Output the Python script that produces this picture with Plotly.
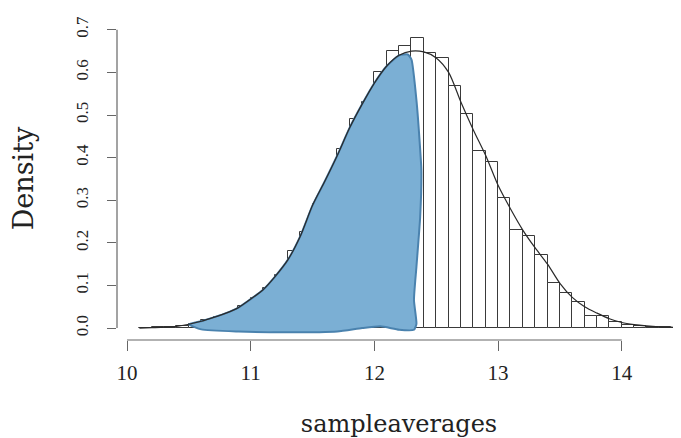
import plotly.graph_objects as go

# ---- data ----
bin_left = [10.1, 10.2, 10.3, 10.4, 10.5, 10.6, 10.7, 10.8, 10.9, 11.0,
            11.1, 11.2, 11.3, 11.4, 11.5, 11.6, 11.7, 11.8, 11.9, 12.0,
            12.1, 12.2, 12.3, 12.4, 12.5, 12.6, 12.7, 12.8, 12.9, 13.0,
            13.1, 13.2, 13.3, 13.4, 13.5, 13.6, 13.7, 13.8, 13.9, 14.0,
            14.1, 14.2, 14.3, 14.4]
hist_density = [0.001, 0.002, 0.003, 0.006, 0.010, 0.020, 0.026, 0.034, 0.052, 0.070,
                0.095, 0.125, 0.180, 0.225, 0.290, 0.340, 0.420, 0.490, 0.530, 0.600,
                0.650, 0.662, 0.680, 0.645, 0.633, 0.568, 0.502, 0.416, 0.389, 0.305,
                0.230, 0.216, 0.171, 0.106, 0.083, 0.062, 0.028, 0.028, 0.015, 0.008,
                0.005, 0.003, 0.002, 0.001]
bin_width = 0.1

curve_x = [10.1, 10.2, 10.3, 10.4, 10.5, 10.6, 10.7, 10.8, 10.9, 11.0,
           11.1, 11.2, 11.3, 11.4, 11.5, 11.6, 11.7, 11.8, 11.9, 12.0,
           12.1, 12.2, 12.3, 12.4, 12.5, 12.6, 12.7, 12.8, 12.9, 13.0,
           13.1, 13.2, 13.3, 13.4, 13.5, 13.6, 13.7, 13.8, 13.9, 14.0,
           14.1, 14.2, 14.3, 14.4, 14.5]
curve_y = [0.000, 0.001, 0.002, 0.004, 0.009, 0.016, 0.025, 0.035, 0.048, 0.068,
           0.090, 0.122, 0.160, 0.215, 0.288, 0.345, 0.405, 0.470, 0.525, 0.575,
           0.615, 0.640, 0.650, 0.648, 0.634, 0.600, 0.530, 0.465, 0.405, 0.335,
           0.280, 0.230, 0.188, 0.150, 0.105, 0.072, 0.050, 0.035, 0.022, 0.013,
           0.008, 0.005, 0.003, 0.002, 0.001]

# shaded region: follows the curve up to 12.2, then an irregular right edge and bottom
shade_start = 10.5
shade_top_end = 12.2
edge_x = [12.27, 12.30, 12.34, 12.37, 12.38, 12.37, 12.34, 12.32, 12.34, 12.32,
          12.20, 12.05, 11.90, 11.70, 11.30, 10.90, 10.60]
edge_y = [0.642, 0.630, 0.535, 0.420, 0.370, 0.260, 0.144, 0.066, 0.010, -0.004,
          -0.004, 0.004, 0.000, -0.008, -0.010, -0.008, -0.003]

x_ticks = [10, 11, 12, 13, 14]
y_ticks = [0.0, 0.1, 0.2, 0.3, 0.4, 0.5, 0.6, 0.7]
y_tick_text = ["0.0", "0.1", "0.2", "0.3", "0.4", "0.5", "0.6", "0.7"]

# ---- figure ----
fig = go.Figure()

fig.add_trace(go.Bar(
    x=[b + bin_width / 2 for b in bin_left],
    y=hist_density,
    width=bin_width,
    marker=dict(color="white", line=dict(color="#3a3a3a", width=1)),
    hoverinfo="skip",
    showlegend=False,
))

top_x = [x for x in curve_x if shade_start <= x <= shade_top_end]
top_y = [y for x, y in zip(curve_x, curve_y) if shade_start <= x <= shade_top_end]
fig.add_trace(go.Scatter(
    x=top_x + edge_x + [top_x[0]],
    y=top_y + edge_y + [top_y[0]],
    mode="lines",
    fill="toself",
    fillcolor="#7BAFD4",
    line=dict(color="#4A82AE", width=2, shape="spline", smoothing=0.5),
    hoverinfo="skip",
    showlegend=False,
))

fig.add_trace(go.Scatter(
    x=curve_x,
    y=curve_y,
    mode="lines",
    line=dict(color="#2a2a2a", width=1.2, shape="spline", smoothing=0.8),
    hoverinfo="skip",
    showlegend=False,
))

axis_col = "#666666"
# R-style axis lines spanning only the tick range
fig.add_shape(type="line", xref="x", yref="paper",
              x0=min(x_ticks), x1=max(x_ticks), y0=0, y1=0,
              line=dict(color=axis_col, width=1.2))
fig.add_shape(type="line", xref="paper", yref="y",
              x0=0, x1=0, y0=min(y_ticks), y1=max(y_ticks),
              line=dict(color=axis_col, width=1.2))

# the page adds an 8px body margin, so the figure is sized to fit the window
fig.update_layout(
    width=673, height=430,
    margin=dict(l=109, r=0, t=9, b=98),
    paper_bgcolor="white", plot_bgcolor="white",
    bargap=0,
    font=dict(family="Liberation Serif", color="#222222"),
    xaxis=dict(
        range=[9.919, 14.479],
        tickvals=x_ticks,
        ticktext=[str(t) for t in x_ticks],
        ticks="outside", ticklen=10, tickcolor=axis_col, tickwidth=1.2,
        ticklabelstandoff=4,
        showline=False, showgrid=False, zeroline=False,
        tickfont=dict(family="Liberation Serif", size=21, color="#222222"),
        title=dict(text="sampleaverages",
                   font=dict(family="DejaVu Serif", size=24, color="#222222"),
                   standoff=30),
        automargin=False,
    ),
    yaxis=dict(
        range=[-0.028, 0.73],
        tickvals=y_ticks,
        ticktext=y_tick_text,
        tickangle=-90,
        ticks="outside", ticklen=9, tickcolor=axis_col, tickwidth=1.2,
        ticklabelstandoff=12,
        showline=False, showgrid=False, zeroline=False,
        tickfont=dict(family="Liberation Serif", size=17, color="#222222"),
        title=dict(text="Density",
                   font=dict(family="DejaVu Serif", size=27, color="#222222"),
                   standoff=45),
        automargin=False,
    ),
)

fig.write_html("out.html")
